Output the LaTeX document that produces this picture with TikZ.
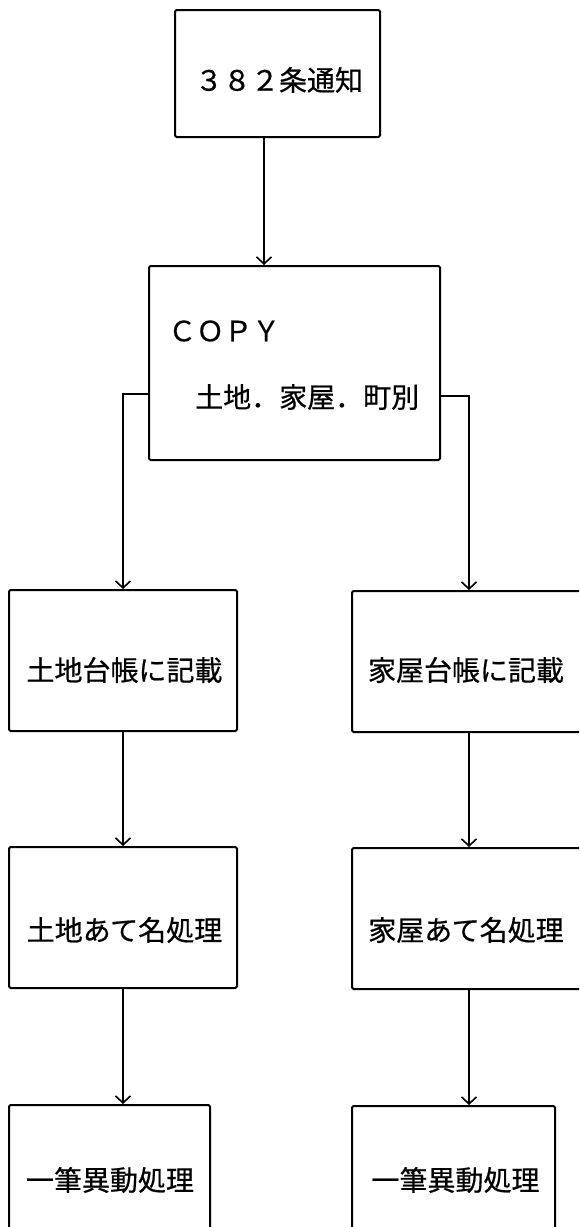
\documentclass[tikz,border=0pt]{standalone}
\usepackage{fontspec}
\newfontfamily\jp[FakeBold=0.6]{Noto Sans CJK JP}
\usetikzlibrary{arrows.meta}
\tikzset{
  box/.style={draw, line width=2pt, rounded corners=1.5pt, inner sep=0pt, anchor=center},
  lbl/.style={font=\jp\fontsize{28pt}{30pt}\selectfont, inner sep=0pt},
  conn/.style={line width=1.8pt, -{Straight Barb[length=7pt,width=15pt,line width=1.6pt]}}
}
\begin{document}
\begin{tikzpicture}[x=1pt,y=-1pt]
\useasboundingbox (0,0) rectangle (579,1227);
\clip (0,0) rectangle (579,1227);
% boxes
\node[box, minimum width=205pt, minimum height=127pt] (top) at (277.5,73.5) {};
\node[box, minimum width=291pt, minimum height=194pt] (copy) at (294.5,363) {};
\node[box, minimum width=228pt, minimum height=141pt] (ltai) at (123,660.5) {};
\node[box, minimum width=234pt, minimum height=141pt] (rtai) at (469,661.5) {};
\node[box, minimum width=228pt, minimum height=141pt] (lat) at (123,917.5) {};
\node[box, minimum width=234pt, minimum height=141pt] (rat) at (469,918.5) {};
\node[box, minimum width=201pt, minimum height=150pt] (lido) at (109.5,1180) {};
\node[box, minimum width=203pt, minimum height=150pt] (rido) at (453.5,1181) {};
% texts
\node[lbl] (topT) at (279,80) {３８２条通知};
\node[lbl, anchor=west] (copyT) at (168,331) {ＣＯＰＹ};
\node[lbl, anchor=west] (copyT2) at (195,397) {土地．家屋．町別};
\node[lbl] (ltaiT) at (124.5,670) {土地台帳に記載};
\node[lbl] (rtaiT) at (466,670) {家屋台帳に記載};
\node[lbl] (latT) at (124.5,930) {土地あて名処理};
\node[lbl] (ratT) at (466,930) {家屋あて名処理};
\node[lbl] (lidoT) at (110,1180) {一筆異動処理};
\node[lbl] (ridoT) at (455.5,1180) {一筆異動処理};
% connectors
\draw[conn] ([xshift=-13.5pt]top.south) -- ([xshift=-30.5pt]copy.north);
\draw[conn] ([yshift=-31pt]copy.west) -| (ltai.north);
\draw[conn] ([yshift=-33pt]copy.east) -| (rtai.north);
\draw[conn] (ltai.south) -- (lat.north);
\draw[conn] (rtai.south) -- (rat.north);
\draw[conn] (lat.south) -- (lat.south |- lido.north);
\draw[conn] (rat.south) -- (rat.south |- rido.north);
\end{tikzpicture}
\end{document}
